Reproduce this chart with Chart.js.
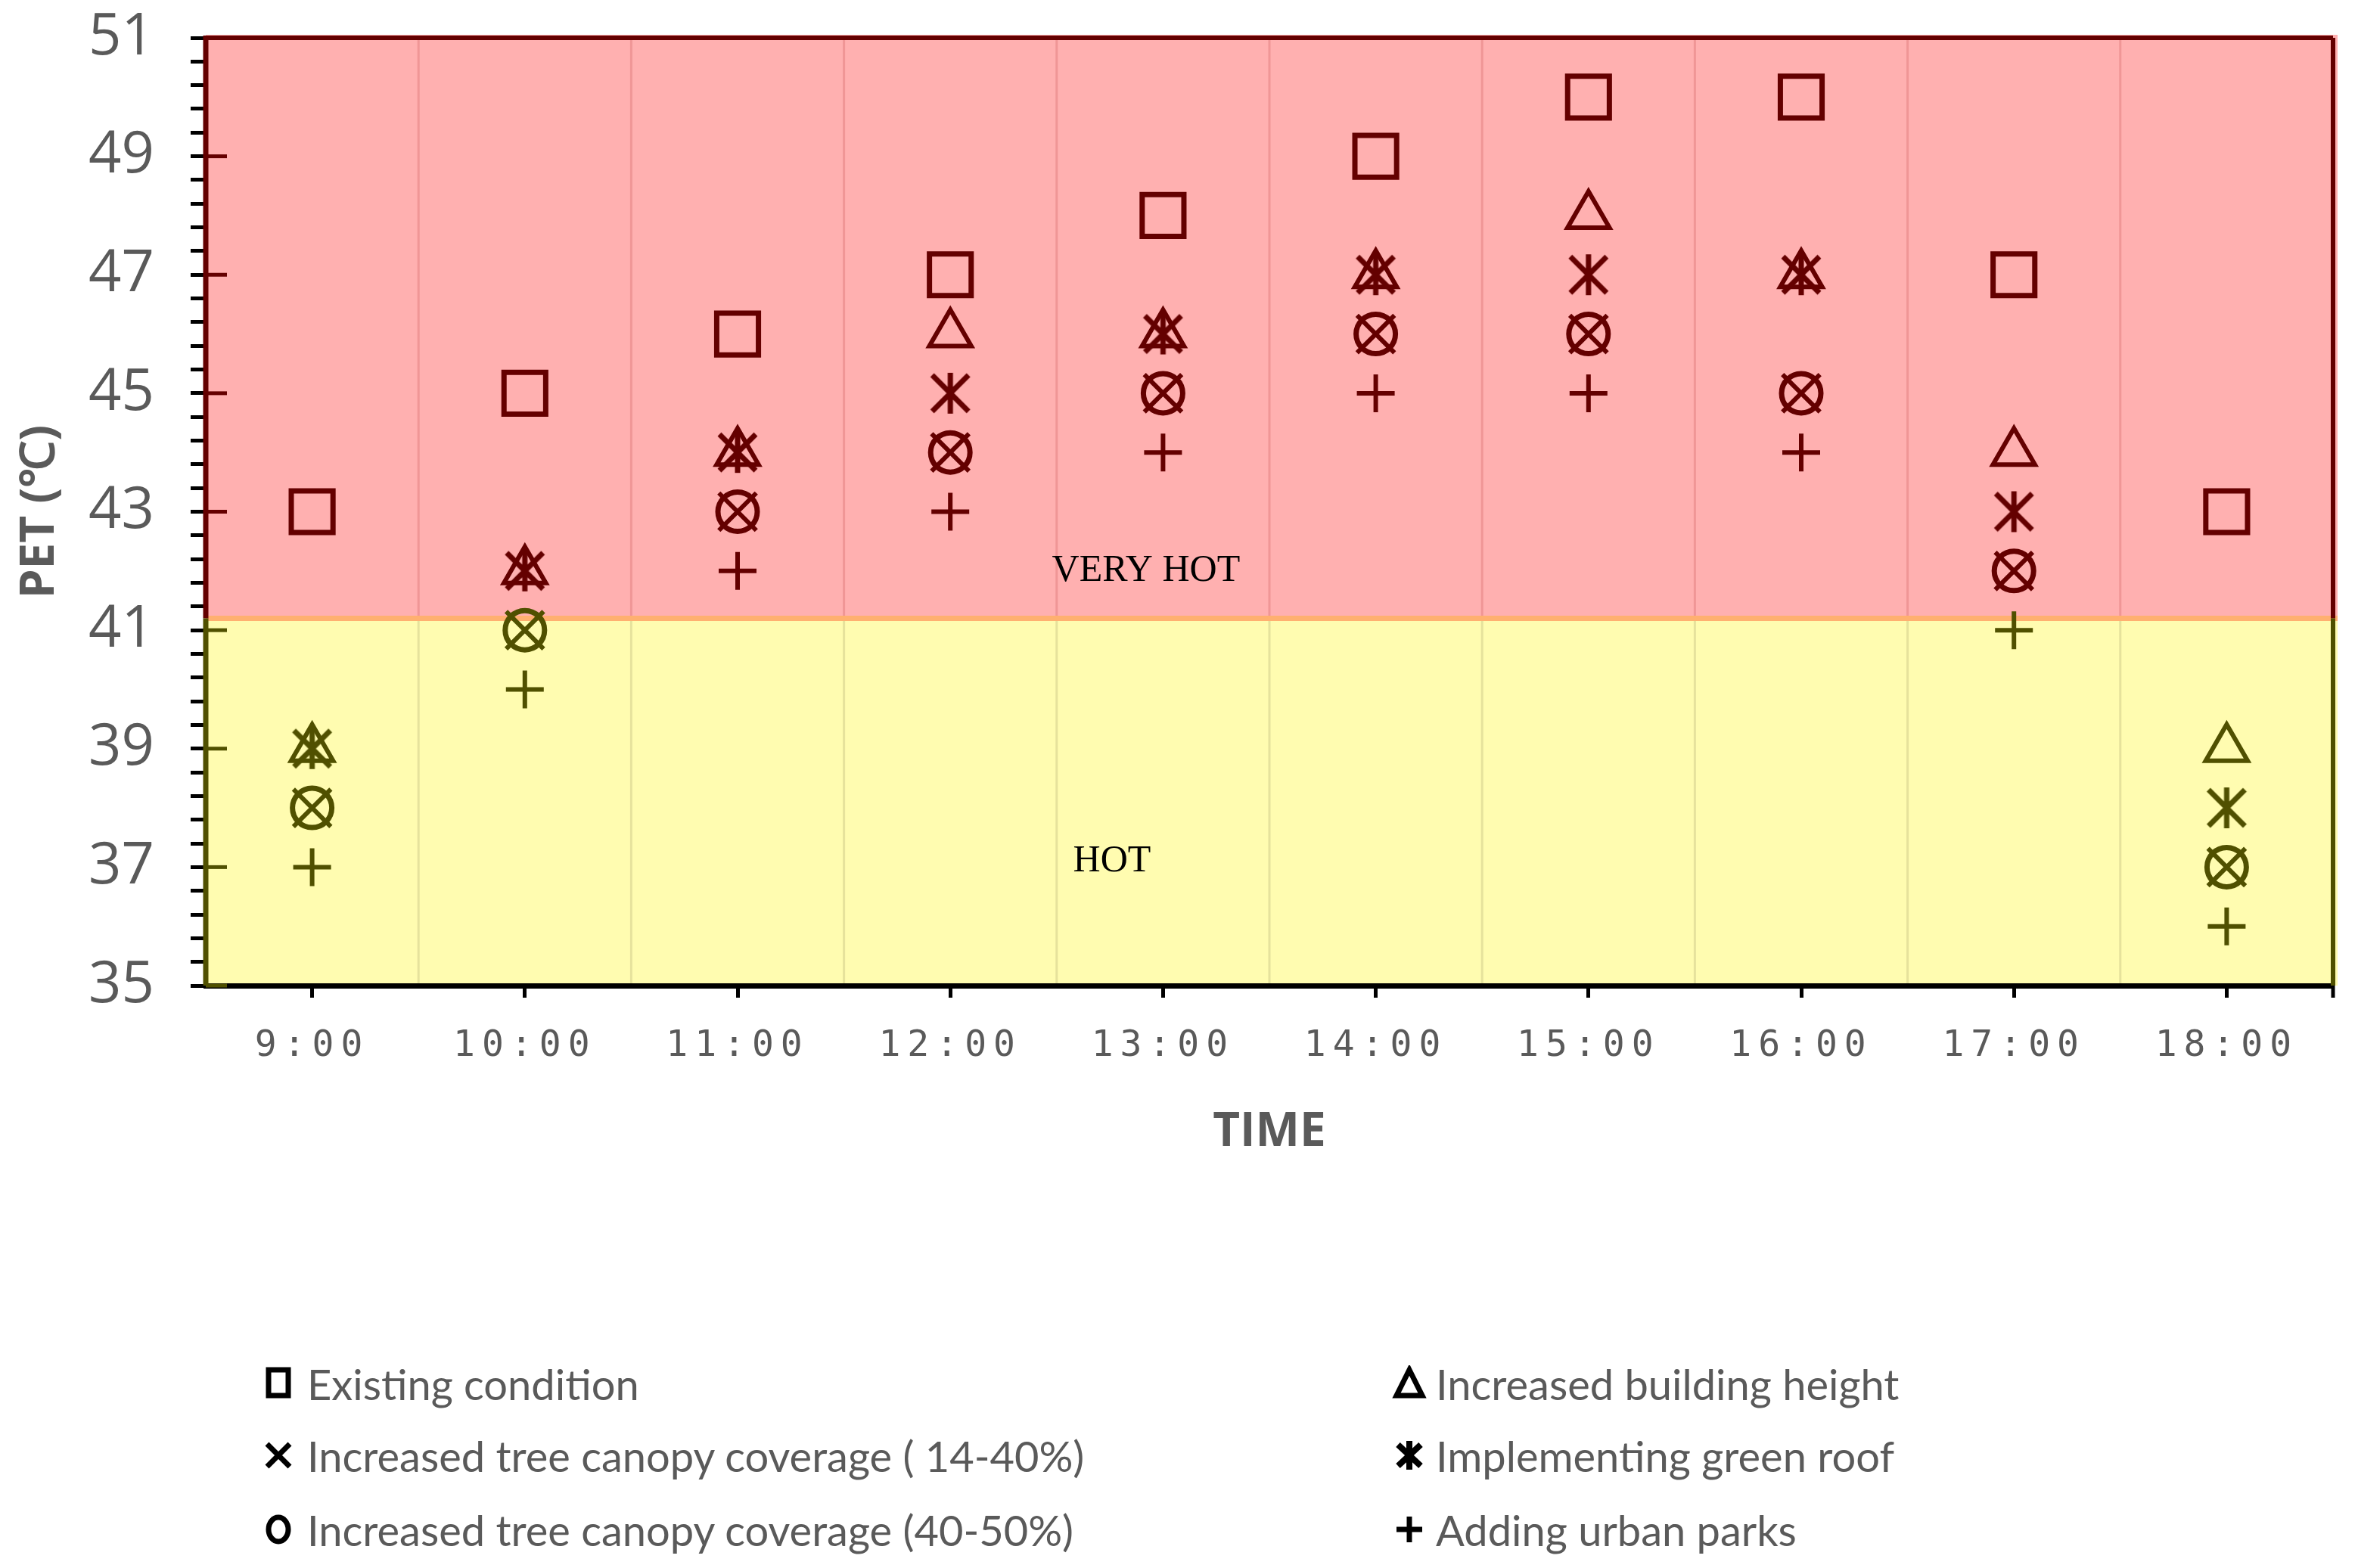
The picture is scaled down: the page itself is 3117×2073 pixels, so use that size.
<!DOCTYPE html>
<html>
<head>
<meta charset="utf-8">
<script src="https://cdn.jsdelivr.net/npm/chart.js@4.4.1/dist/chart.umd.min.js"></script>
<style>
  html, body { margin: 0; padding: 0; background: #fff; overflow: hidden; }
  #wrap { position: relative; width: 3117px; height: 2073px; overflow: hidden; }
  #chart { display: block; }
  #legend { position: absolute; left: 0; top: 0; width: 3117px; height: 2073px; pointer-events: none;
            font-family: Lato, sans-serif; font-size: 56px; color: #5a5a5a; }
  .item { position: absolute; display: flex; align-items: center; height: 70px; white-space: nowrap; }
  .item svg { flex: none; }
</style>
</head>
<body>
<div id="wrap">
  <canvas id="chart"></canvas>
  <div id="legend"></div>
</div>
<script>
// data
const times = ["9:00", "10:00", "11:00", "12:00", "13:00", "14:00", "15:00", "16:00", "17:00", "18:00"];
const existing       = [43, 45, 46, 47, 48, 49, 50, 50, 47, 43];
const buildingHeight = [39, 42, 44, 46, 46, 47, 48, 47, 44, 39];
const canopy14to40   = [38, 41, 43, 44, 45, 46, 46, 45, 42, 37];
const greenRoof      = [39, 42, 44, 45, 46, 47, 47, 47, 43, 38];
const canopy40to50   = [38, 41, 43, 44, 45, 46, 46, 45, 42, 37];
const urbanParks     = [37, 40, 42, 43, 44, 45, 45, 44, 41, 36];

const seriesNames = [
  "Existing condition",
  "Increased building height",
  "Increased tree canopy coverage ( 14-40%)",
  "Implementing green roof",
  "Increased tree canopy coverage (40-50%)",
  "Adding urban parks"
];
const yLabels = [35, 37, 39, 41, 43, 45, 47, 49, 51];
const yMin = 35, yMax = 51, yMinorStep = 0.4;
const zoneLimit = 41.2;
const zoneNames = ["VERY HOT", "HOT"];
const zoneNameX = [3.92, 3.76];
const zoneNameY = [42.0, 37.1];

const RED = "#640000";
const OLIVE = "#505000";

const yTickValues = [];
for (let v = yMin; v <= yMax + 1e-9; v += yMinorStep) yTickValues.push(Math.round(v * 10) / 10);

const markColor = c => (c.parsed && c.parsed.y < zoneLimit) ? OLIVE : RED;

// big markers would otherwise push the plot edges inwards
Chart.LineController.prototype.getMaxOverflow = function () { return 0; };

// asterisk marker (Chart.js "star" has 8 arms, this one has 6)
function asterisk(color) {
  const cv = document.createElement("canvas");
  cv.width = 60; cv.height = 60;
  const g = cv.getContext("2d");
  g.strokeStyle = color; g.lineWidth = 7;
  g.beginPath();
  g.moveTo(30, 3); g.lineTo(30, 57);
  g.moveTo(6, 6); g.lineTo(54, 54);
  g.moveTo(54, 6); g.lineTo(6, 54);
  g.stroke();
  return cv;
}
const starRed = asterisk(RED), starOlive = asterisk(OLIVE);

// category axis whose tick labels are letter-spaced like the original
class SpacedCategoryScale extends Chart.CategoryScale {
  drawLabels(area) {
    this.ctx.save();
    this.ctx.letterSpacing = "9px";
    super.drawLabels(area);
    this.ctx.restore();
  }
}
SpacedCategoryScale.id = "spacedCategory";
SpacedCategoryScale.defaults = Chart.CategoryScale.defaults;
Chart.register(SpacedCategoryScale);

function line(ctx, x1, y1, x2, y2) {
  ctx.beginPath(); ctx.moveTo(x1, y1); ctx.lineTo(x2, y2); ctx.stroke();
}

const zones = {
  id: "zones",
  beforeDraw(chart) {
    const { ctx, chartArea: a, scales: { x, y } } = chart;
    const yl = y.getPixelForValue(zoneLimit);
    ctx.save();
    ctx.fillStyle = "#FFB0B0";
    ctx.fillRect(a.left, a.top - 4, a.width + 6, yl - a.top + 4);
    ctx.fillStyle = "#FFFCB0";
    ctx.fillRect(a.left, yl, a.width + 6, a.bottom - yl);
    ctx.lineWidth = 3;
    for (let i = 0; i < times.length - 1; i++) {
      const px = (x.getPixelForValue(i) + x.getPixelForValue(i + 1)) / 2;
      ctx.strokeStyle = "#F09696";
      line(ctx, px, a.top, px, yl);
      ctx.strokeStyle = "#E6E29C";
      line(ctx, px, yl, px, a.bottom);
    }
    ctx.strokeStyle = "#FFB070";
    ctx.lineWidth = 7;
    line(ctx, a.left, yl, a.right + 6, yl);
    ctx.restore();
  },
  afterDraw(chart) {
    const { ctx, chartArea: a, scales: { x, y } } = chart;
    const yl = y.getPixelForValue(zoneLimit);
    ctx.save();
    // frame
    ctx.lineWidth = 6;
    ctx.strokeStyle = RED;
    line(ctx, a.left, a.top, a.right, a.top);
    line(ctx, a.right, a.top, a.right, yl);
    ctx.strokeStyle = OLIVE;
    line(ctx, a.right, yl, a.right, a.bottom);
    ctx.strokeStyle = "#000";
    ctx.lineWidth = 5;
    line(ctx, a.right, a.bottom, a.right, a.bottom + 16);
    ctx.lineWidth = 7;
    ctx.strokeStyle = RED;
    line(ctx, a.left, a.top - 3, a.left, yl);
    ctx.strokeStyle = OLIVE;
    line(ctx, a.left, yl, a.left, a.bottom);
    // short inner marks at the labelled values
    ctx.lineWidth = 5;
    yLabels.forEach(v => {
      const py = y.getPixelForValue(v);
      ctx.strokeStyle = v < zoneLimit ? OLIVE : RED;
      line(ctx, a.left, py, a.left + 28, py);
    });
    // zone names
    ctx.fillStyle = "#000";
    ctx.font = '50px "Liberation Serif", serif';
    ctx.textAlign = "center";
    ctx.textBaseline = "middle";
    zoneNames.forEach((t, i) => {
      ctx.fillText(t, x.getPixelForValue(zoneNameX[i]), y.getPixelForValue(zoneNameY[i]));
    });
    ctx.restore();
  }
};

const seriesData = [existing, buildingHeight, canopy14to40, greenRoof, canopy40to50, urbanParks];
const seriesStyle = [
  { pointStyle: "rect", pointRadius: 39, pointBorderWidth: 7 },
  { pointStyle: "triangle", pointRadius: 32, pointBorderWidth: 6 },
  { pointStyle: "crossRot", pointRadius: 35, pointBorderWidth: 6 },
  { pointStyle: c => (c.parsed && c.parsed.y < zoneLimit) ? starOlive : starRed, pointRadius: 30, pointBorderWidth: 6 },
  { pointStyle: "circle", pointRadius: 26, pointBorderWidth: 7 },
  { pointStyle: "cross", pointRadius: 25, pointBorderWidth: 6 }
];

const datasets = seriesData.map((d, i) => Object.assign({
  label: seriesNames[i],
  data: d,
  showLine: false,
  clip: false,
  backgroundColor: "rgba(0,0,0,0)",
  pointBackgroundColor: "rgba(0,0,0,0)",
  pointBorderColor: markColor,
  borderColor: markColor
}, seriesStyle[i], { pointHoverRadius: seriesStyle[i].pointRadius }));

new Chart(document.getElementById("chart"), {
  type: "line",
  data: { labels: times, datasets: datasets },
  options: {
    responsive: true,
    maintainAspectRatio: false,
    animation: false,
    events: [],
    devicePixelRatio: 1,
    layout: { padding: { left: 0, right: 33, top: 50, bottom: 510 } },
    plugins: { legend: { display: false }, tooltip: { enabled: false } },
    scales: {
      x: {
        type: "spacedCategory",
        offset: true,
        grid: { offset: false, drawOnChartArea: false, tickLength: 16, tickWidth: 5, tickColor: "#000" },
        border: { display: true, color: "#000", width: 7 },
        ticks: { color: "#5a5a5a", font: { family: "DejaVu Sans Mono", size: 48 }, padding: 36, maxRotation: 0, autoSkip: false },
        title: { display: true, text: "TIME", color: "#5a5a5a",
                 font: { family: "Open Sans", size: 62, weight: "bold" }, padding: { top: 0, bottom: 28 } },
        afterFit: s => { s.height = 260; s.paddingLeft = 0; s.paddingRight = 0; }
      },
      y: {
        min: yMin,
        max: yMax,
        afterBuildTicks: s => { s.ticks = yTickValues.map(v => ({ value: v })); },
        grid: { drawOnChartArea: false, tickLength: 20, tickWidth: 5, tickColor: "#000" },
        border: { display: false },
        ticks: {
          autoSkip: false,
          color: "#5a5a5a",
          font: { family: "Open Sans", size: 76 },
          padding: 48,
          callback: v => yLabels.includes(Math.round(v * 10) / 10) ? String(Math.round(v)) : ""
        },
        title: { display: true, text: "PET (℃)", color: "#5a5a5a",
                 font: { family: "Open Sans", size: 62, weight: "bold" }, padding: { top: 16, bottom: 0 } },
        afterFit: s => { s.width = 272; s.paddingTop = 0; s.paddingBottom = 0; }
      }
    }
  },
  plugins: [zones]
});

// legend in two columns below the chart
const legendMarks = [
  '<rect x="11" y="6" width="26" height="34" fill="none" stroke="#000" stroke-width="7"/>',
  '<polygon points="24,6 41,40 7,40" fill="none" stroke="#000" stroke-width="7" stroke-linejoin="miter"/>',
  '<path d="M9 9 L39 39 M39 9 L9 39" stroke="#000" stroke-width="7"/>',
  '<path d="M24 5 L24 43 M9 10 L39 38 M39 10 L9 38" stroke="#000" stroke-width="8"/>',
  '<ellipse cx="24" cy="24" rx="13" ry="16" fill="none" stroke="#000" stroke-width="7"/>',
  '<path d="M24 7 L24 41 M7 24 L41 24" stroke="#000" stroke-width="7"/>'
];
const legendColX = [368, 1863];
const legendTextX = [406, 1898];
const legendRowY = [1829, 1924, 2022];
const legendEl = document.getElementById("legend");
seriesNames.forEach((name, i) => {
  const col = i % 2, row = Math.floor(i / 2);
  const div = document.createElement("div");
  div.className = "item";
  div.style.left = (legendColX[col] - 24) + "px";
  div.style.top = (legendRowY[row] - 35) + "px";
  div.innerHTML = '<svg width="48" height="48" viewBox="0 0 48 48">' + legendMarks[i] + '</svg>' +
    '<span style="margin-left:' + (legendTextX[col] - legendColX[col] - 24) + 'px">' + name + '</span>';
  legendEl.appendChild(div);
});
</script>
</body>
</html>
